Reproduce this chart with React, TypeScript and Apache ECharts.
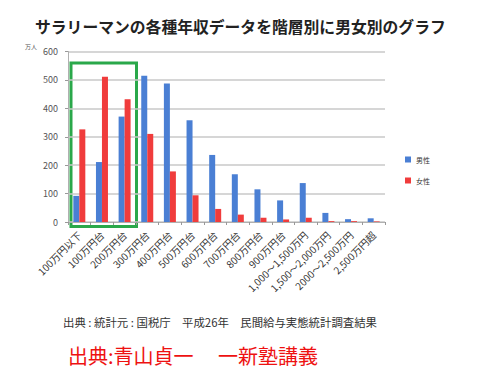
import React, { useEffect, useRef } from "react";
import * as echarts from "echarts";

const categories = [
  "100万円以下",
  "100万円台",
  "200万円台",
  "300万円台",
  "400万円台",
  "500万円台",
  "600万円台",
  "700万円台",
  "800万円台",
  "900万円台",
  "1,000～1,500万円",
  "1,500～2,000万円",
  "2000～2,500万円",
  "2,500万円超",
];
const maleValues = [92, 211, 371, 515, 487, 358, 236, 168, 115, 76, 137, 32, 10, 13];
const femaleValues = [326, 511, 432, 310, 178, 94, 46, 26, 15, 9, 15, 3, 3, 2];
const yTicks = { min: 0, max: 600, interval: 100 };

const FONT = "'Noto Sans CJK JP', 'Noto Sans', sans-serif";

export default function App() {
  const ref = useRef<HTMLDivElement>(null);
  useEffect(() => {
    if (!ref.current) return;
    const chart = echarts.init(ref.current, undefined, { renderer: "svg" });
    chart.setOption({
      animation: false,
      backgroundColor: "#ffffff",
      textStyle: { fontFamily: FONT },
      title: {
        text: "サラリーマンの各種年収データを階層別に男女別のグラフ",
        left: 30,
        top: 14,
        textStyle: { fontSize: 15.8, fontWeight: "bold", color: "#222", fontFamily: FONT },
      },
      legend: {
        orient: "vertical",
        left: 400,
        top: 151,
        itemWidth: 6,
        itemHeight: 6,
        itemGap: 14,
        icon: "rect",
        textStyle: { fontSize: 7, color: "#333", fontFamily: FONT },
        data: ["男性", "女性"],
      },
      grid: { left: 68, right: 115, top: 51.5, bottom: 147 },
      xAxis: {
        type: "category",
        data: categories,
        axisLine: { lineStyle: { color: "#b0b0b0", width: 1 } },
        axisTick: { show: true, alignWithLabel: false, length: 3, lineStyle: { color: "#999" } },
        axisLabel: {
          rotate: 45,
          interval: 0,
          fontSize: 10,
          color: "#333",
          margin: 11,
          fontFamily: FONT,
        },
      },
      yAxis: {
        type: "value",
        min: yTicks.min,
        max: yTicks.max,
        interval: yTicks.interval,
        axisLine: { show: true, lineStyle: { color: "#b0b0b0", width: 1 } },
        axisTick: { show: true, length: 3, lineStyle: { color: "#999" } },
        splitLine: { lineStyle: { color: "#c8c8c8", width: 1.5 } },
        axisLabel: { fontSize: 9, color: "#555", margin: 10, fontFamily: FONT },
      },
      series: [
        {
          name: "男性",
          type: "bar",
          data: maleValues,
          barWidth: 6,
          barGap: "0%",
          itemStyle: { color: "#4a7fd4" },
        },
        {
          name: "女性",
          type: "bar",
          data: femaleValues,
          barWidth: 6,
          barGap: "0%",
          itemStyle: { color: "#f03c3c" },
        },
      ],
      graphic: [
        {
          type: "text",
          left: 25,
          top: 43,
          style: { text: "万人", fontSize: 6, fill: "#555", fontFamily: FONT },
        },
        {
          type: "rect",
          shape: { x: 71, y: 63, width: 65.5, height: 163.5 },
          style: { fill: "none", stroke: "#2aa84a", lineWidth: 3 },
        },
        {
          type: "text",
          x: 63,
          y: 322,
          style: {
            text: "出典 : 統計元 : 国税庁　平成26年　民間給与実態統計調査結果",
            fontSize: 11.4,
            fill: "#333",
            fontFamily: FONT,
            verticalAlign: "middle",
          },
        },
        {
          type: "text",
          x: 68,
          y: 355,
          style: {
            text: "出典:青山貞一",
            fontSize: 20,
            fill: "#ee1111",
            fontFamily: FONT,
            verticalAlign: "middle",
          },
        },
        {
          type: "text",
          x: 218,
          y: 355,
          style: {
            text: "一新塾講義",
            fontSize: 20,
            fill: "#ee1111",
            fontFamily: FONT,
            verticalAlign: "middle",
          },
        },
      ],
    });
    return () => chart.dispose();
  }, []);
  return <div ref={ref} style={{ width: 500, height: 369, position: "absolute", left: 0, top: 0 }} />;
}
